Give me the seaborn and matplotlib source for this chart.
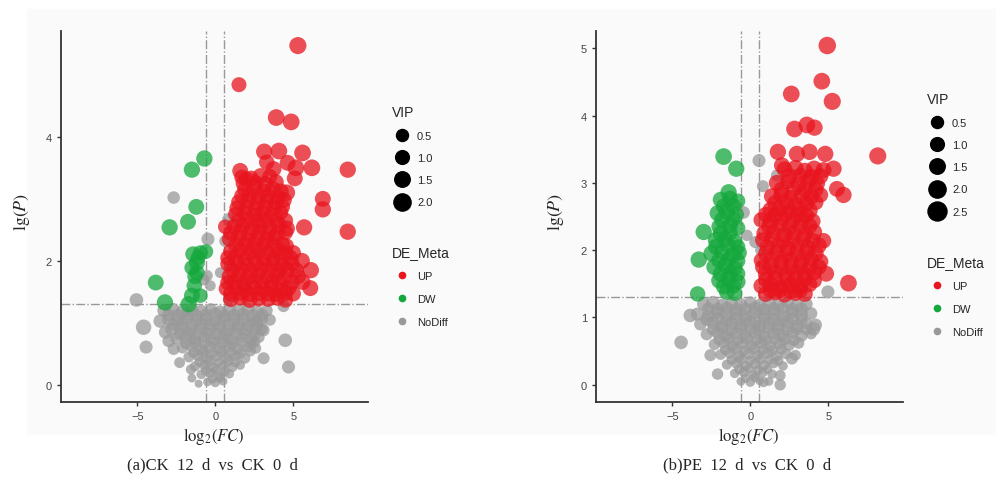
import numpy as np
import pandas as pd
import matplotlib
matplotlib.use("Agg")
import matplotlib.pyplot as plt
from matplotlib.lines import Line2D
from matplotlib.patches import Rectangle
import seaborn as sns

# points as (log2FC, lgP, VIP)
a_up = [
    (5.3, 5.47, 2.1), (1.52, 4.84, 1.6), (3.91, 4.31, 2.0), (4.87, 4.24, 2.0),
    (3.14, 3.76, 1.9), (4.08, 3.77, 2.0), (5.6, 3.74, 2.0), (8.5, 3.47, 1.9),
    (6.2, 3.5, 2.0), (5.17, 3.5, 2.0), (4.64, 3.58, 1.8), (5.1, 3.33, 1.8),
    (4.6, 3.1, 1.9), (6.9, 3.0, 1.8), (6.9, 2.83, 1.9), (5.7, 2.54, 1.9),
    (8.5, 2.47, 1.9), (4.5, 2.65, 1.7), (0.64, 2.55, 1.5), (6.13, 1.85, 1.9),
    (6.1, 1.56, 1.8), (5.56, 2.0, 1.8), (5.0, 2.13, 1.7), (4.55, 2.24, 1.7),
    (1.6, 3.45, 1.8), (3.74, 3.48, 1.8), (3.3, 3.59, 1.7), (2.9, 3.37, 1.7),
    (2.0, 3.32, 1.6),
    (1.7, 3.35, 1.6), (2.3, 3.33, 1.7), (3.5, 3.36, 1.6),
    (1.9, 3.15, 1.7), (2.5, 3.17, 1.8), (3.1, 3.13, 1.6), (3.7, 3.16, 1.7), (4.2, 3.12, 1.8),
    (1.5, 2.95, 1.6), (2.1, 2.97, 1.7), (2.7, 2.93, 1.8), (3.3, 2.96, 1.6), (3.9, 2.94, 1.7), (4.4, 2.98, 1.8),
    (1.3, 2.75, 1.6), (1.9, 2.77, 1.7), (2.5, 2.73, 1.6), (3.0, 2.76, 1.8), (3.6, 2.74, 1.7), (4.2, 2.78, 1.6),
    (1.2, 2.55, 1.7), (1.8, 2.57, 1.6), (2.4, 2.53, 1.8), (2.9, 2.56, 1.7), (3.5, 2.54, 1.6), (4.1, 2.58, 1.7), (4.6, 2.52, 1.8),
    (0.9, 2.35, 1.6), (1.5, 2.37, 1.7), (2.1, 2.33, 1.6), (2.7, 2.36, 1.8), (3.3, 2.34, 1.7), (3.8, 2.38, 1.6),
    (1.0, 2.15, 1.7), (1.6, 2.17, 1.6), (2.2, 2.13, 1.8), (2.8, 2.16, 1.7), (3.4, 2.14, 1.6), (4.0, 2.18, 1.7), (4.5, 2.12, 1.8),
    (0.8, 1.95, 1.6), (1.4, 1.97, 1.7), (2.0, 1.93, 1.6), (2.6, 1.96, 1.8), (3.2, 1.94, 1.7), (3.7, 1.98, 1.6), (4.3, 1.92, 1.7), (4.9, 1.96, 1.8),
    (0.9, 1.75, 1.7), (1.5, 1.77, 1.6), (2.1, 1.73, 1.8), (2.7, 1.76, 1.7), (3.3, 1.74, 1.6), (3.9, 1.78, 1.7), (4.4, 1.72, 1.8), (5.3, 1.75, 1.8),
    (0.7, 1.55, 1.6), (1.3, 1.57, 1.7), (1.9, 1.53, 1.6), (2.5, 1.56, 1.8), (3.1, 1.54, 1.7), (3.6, 1.58, 1.6), (4.2, 1.52, 1.7), (4.7, 1.56, 1.8),
    (1.0, 1.38, 1.7), (1.6, 1.4, 1.6), (2.2, 1.37, 1.8), (2.8, 1.39, 1.7), (3.4, 1.38, 1.6), (4.0, 1.4, 1.7), (4.5, 1.37, 1.7),
]
a_up_core = [
    (1.8, 3.25, 1.7), (2.6, 3.26, 1.6), (3.2, 3.24, 1.8), (3.9, 3.27, 1.7),
    (1.7, 3.05, 1.6), (2.2, 3.06, 1.7), (2.8, 3.04, 1.8), (3.4, 3.05, 1.6), (4.0, 3.03, 1.7),
    (1.4, 2.85, 1.7), (2.0, 2.86, 1.6), (2.6, 2.84, 1.7), (3.2, 2.86, 1.8), (3.8, 2.85, 1.6), (4.3, 2.87, 1.7),
    (1.5, 2.65, 1.6), (2.1, 2.66, 1.8), (2.7, 2.64, 1.7), (3.3, 2.66, 1.6), (3.9, 2.65, 1.7),
    (1.0, 2.45, 1.7), (1.6, 2.46, 1.6), (2.2, 2.44, 1.8), (2.8, 2.46, 1.7), (3.4, 2.45, 1.6), (4.0, 2.44, 1.7), (4.5, 2.46, 1.7),
    (1.3, 2.25, 1.6), (1.9, 2.26, 1.7), (2.5, 2.24, 1.8), (3.1, 2.26, 1.6), (3.7, 2.25, 1.7), (4.3, 2.27, 1.7),
    (0.8, 2.05, 1.6), (1.3, 2.06, 1.7), (1.9, 2.04, 1.6), (2.5, 2.06, 1.8), (3.1, 2.05, 1.7), (3.7, 2.04, 1.6), (4.2, 2.06, 1.7), (4.8, 2.05, 1.8),
    (1.1, 1.85, 1.7), (1.7, 1.86, 1.6), (2.3, 1.84, 1.8), (2.9, 1.86, 1.7), (3.5, 1.85, 1.6), (4.1, 1.84, 1.7), (4.6, 1.86, 1.8), (5.2, 1.85, 1.7),
    (0.8, 1.65, 1.6), (1.2, 1.66, 1.7), (1.8, 1.64, 1.6), (2.4, 1.66, 1.8), (3.0, 1.65, 1.7), (3.6, 1.64, 1.6), (4.1, 1.66, 1.7), (4.9, 1.65, 1.8), (5.6, 1.66, 1.8),
    (1.0, 1.47, 1.7), (1.6, 1.48, 1.6), (2.2, 1.46, 1.7), (2.8, 1.48, 1.8), (3.4, 1.47, 1.7), (3.9, 1.46, 1.6), (4.5, 1.48, 1.7), (5.0, 1.47, 1.7),
]
a_dw = [
    (-0.7, 3.65, 1.9), (-1.5, 3.47, 1.9), (-1.22, 2.87, 1.8), (-1.75, 2.63, 1.8),
    (-2.93, 2.54, 1.9), (-1.43, 2.11, 1.7), (-0.96, 2.13, 1.6), (-1.18, 1.97, 1.8),
    (-1.5, 1.89, 1.6), (-0.6, 2.15, 1.5), (-1.18, 1.81, 1.7), (-3.82, 1.65, 1.8),
    (-1.35, 1.6, 1.7), (-1.5, 1.44, 1.8), (-3.23, 1.33, 1.9), (-1.71, 1.3, 1.9),
    (-0.96, 1.44, 1.5), (-1.3, 1.75, 1.7), (-1.1, 2.05, 1.6),
]
a_nd = [
    (-2.67, 3.02, 1.1), (-0.47, 2.35, 1.2), (0.85, 2.67, 1.1), (0.64, 2.32, 1.0),
    (0.96, 1.92, 1.0), (1.82, 1.6, 1.2), (-0.53, 1.76, 0.9), (-0.32, 1.6, 0.8),
    (-0.75, 1.7, 1.0), (0.85, 1.38, 0.9), (-5.06, 1.37, 1.3), (4.38, 1.27, 1.0),
    (0.32, 1.81, 0.8),
    (-4.6, 0.93, 1.7), (-4.44, 0.61, 1.2), (4.49, 0.72, 1.3), (4.7, 0.29, 1.2),
    (-2.29, 0.36, 0.8), (-1.56, 0.25, 0.7), (-1.5, 0.11, 0.5), (-1.07, 0.02, 0.4),
    (3.1, 0.43, 1.0), (2.52, 0.69, 0.9), (-3.53, 1.03, 1.3), (-3.2, 0.85, 1.2),
    (-2.99, 0.71, 1.1), (-2.67, 0.58, 1.0), (2.67, 1.03, 1.1), (2.99, 0.9, 1.0),
    (2.24, 0.55, 0.9),
    (-3.3, 1.2, 1.2), (-2.7, 1.22, 1.1), (-2.1, 1.18, 1.3), (-1.5, 1.21, 1.2), (-0.9, 1.19, 1.1),
    (-0.3, 1.22, 1.0), (0.3, 1.18, 1.1), (0.9, 1.21, 1.2), (1.5, 1.19, 1.3), (2.1, 1.22, 1.2),
    (2.7, 1.18, 1.1), (3.3, 1.2, 1.0),
    (-3.0, 1.05, 1.1), (-2.4, 1.03, 1.2), (-1.8, 1.07, 1.1), (-1.2, 1.04, 1.2), (-0.6, 1.06, 1.0),
    (0.0, 1.03, 1.1), (0.6, 1.07, 1.2), (1.2, 1.04, 1.1), (1.8, 1.06, 1.2), (2.4, 1.03, 1.0),
    (3.0, 1.07, 1.1), (3.5, 1.05, 1.0),
    (-2.8, 0.9, 1.2), (-2.2, 0.92, 1.1), (-1.6, 0.88, 1.0), (-1.0, 0.91, 1.1), (-0.4, 0.89, 1.2),
    (0.2, 0.92, 1.0), (0.8, 0.88, 1.1), (1.4, 0.91, 1.0), (2.0, 0.89, 1.1), (2.6, 0.92, 1.2),
    (3.1, 0.88, 1.0),
    (-2.5, 0.75, 1.0), (-1.9, 0.77, 1.1), (-1.3, 0.73, 1.0), (-0.7, 0.76, 0.9), (-0.1, 0.74, 1.0),
    (0.5, 0.77, 1.1), (1.1, 0.73, 1.0), (1.7, 0.76, 0.9), (2.3, 0.74, 1.0), (2.8, 0.77, 0.9),
    (-2.1, 0.6, 0.9), (-1.5, 0.62, 1.0), (-0.9, 0.58, 0.9), (-0.3, 0.61, 1.0), (0.3, 0.59, 0.9),
    (0.9, 0.62, 1.0), (1.5, 0.58, 0.9), (2.1, 0.61, 0.8), (2.6, 0.59, 0.8),
    (-1.7, 0.45, 0.8), (-1.1, 0.47, 0.9), (-0.5, 0.43, 0.9), (0.1, 0.46, 0.8), (0.7, 0.44, 0.9),
    (1.3, 0.47, 0.8), (1.9, 0.43, 0.8),
    (-1.3, 0.3, 0.7), (-0.7, 0.32, 0.8), (-0.1, 0.28, 0.8), (0.5, 0.31, 0.7), (1.1, 0.29, 0.7),
    (1.6, 0.32, 0.6),
    (-0.9, 0.17, 0.6), (-0.3, 0.19, 0.7), (0.3, 0.15, 0.7), (0.9, 0.18, 0.6),
    (-0.5, 0.05, 0.5), (0.0, 0.04, 0.6), (0.5, 0.06, 0.5),
]
a_nd_core = [
    (-3.0, 1.13, 1.1), (-2.4, 1.12, 1.2), (-1.8, 1.14, 1.1), (-1.2, 1.12, 1.0), (-0.6, 1.13, 1.1),
    (0.0, 1.14, 1.2), (0.6, 1.12, 1.1), (1.2, 1.13, 1.0), (1.8, 1.14, 1.1), (2.4, 1.12, 1.2), (3.0, 1.13, 1.1),
    (-2.7, 0.97, 1.0), (-2.1, 0.98, 1.1), (-1.5, 0.96, 1.2), (-0.9, 0.98, 1.0), (-0.3, 0.97, 1.1),
    (0.3, 0.96, 1.0), (0.9, 0.98, 1.1), (1.5, 0.97, 1.2), (2.1, 0.96, 1.0), (2.7, 0.98, 1.1),
    (-2.3, 0.82, 1.0), (-1.7, 0.83, 1.1), (-1.1, 0.81, 1.0), (-0.5, 0.83, 0.9), (0.1, 0.82, 1.0),
    (0.7, 0.81, 1.1), (1.3, 0.83, 1.0), (1.9, 0.82, 0.9), (2.5, 0.81, 1.0),
    (-1.9, 0.67, 0.9), (-1.3, 0.68, 1.0), (-0.7, 0.66, 0.9), (-0.1, 0.68, 1.0), (0.5, 0.67, 0.9),
    (1.1, 0.66, 1.0), (1.7, 0.68, 0.9), (2.3, 0.67, 0.8),
    (-1.4, 0.52, 0.8), (-0.8, 0.53, 0.9), (-0.2, 0.51, 0.8), (0.4, 0.53, 0.9), (1.0, 0.52, 0.8), (1.6, 0.51, 0.8),
    (-1.0, 0.37, 0.7), (-0.4, 0.38, 0.8), (0.2, 0.36, 0.7), (0.8, 0.38, 0.8), (1.3, 0.37, 0.7),
    (-0.6, 0.23, 0.7), (0.0, 0.24, 0.6), (0.6, 0.22, 0.7), (-0.2, 0.1, 0.6), (0.3, 0.11, 0.6),
]

b_up = [
    (4.94, 5.04, 2.2), (4.59, 4.51, 2.0), (5.26, 4.21, 2.1), (2.63, 4.32, 2.0),
    (8.18, 3.4, 2.1), (6.3, 1.51, 2.0), (2.84, 3.8, 2.0), (3.63, 3.86, 2.0),
    (4.12, 3.82, 1.9), (1.77, 3.46, 1.9), (2.99, 3.43, 1.9), (3.8, 3.46, 1.9),
    (4.81, 3.43, 1.9), (5.34, 3.21, 1.9), (5.56, 2.91, 1.8), (5.98, 2.82, 1.9),
    (4.87, 1.65, 1.8), (4.7, 2.14, 1.7), (2.03, 3.26, 1.8),
    (2.2, 3.2, 1.8), (2.9, 3.22, 1.9), (3.5, 3.18, 1.8), (4.1, 3.21, 1.9), (4.7, 3.19, 1.8),
    (1.7, 3.0, 1.8), (2.4, 3.02, 1.7), (3.1, 2.98, 1.9), (3.7, 3.01, 1.8), (4.3, 2.99, 1.7),
    (1.4, 2.8, 1.9), (2.0, 2.82, 1.8), (2.6, 2.78, 1.7), (3.3, 2.81, 1.9), (3.9, 2.79, 1.8), (4.5, 2.82, 1.7),
    (1.3, 2.6, 1.8), (1.9, 2.62, 1.9), (2.5, 2.58, 1.7), (3.2, 2.61, 1.8), (3.8, 2.59, 1.9),
    (0.7, 2.45, 1.7), (1.3, 2.43, 1.8), (2.0, 2.47, 1.9), (2.7, 2.44, 1.7), (3.3, 2.46, 1.8), (4.0, 2.43, 1.8),
    (0.9, 2.25, 1.8), (1.5, 2.27, 1.7), (2.2, 2.23, 1.9), (2.8, 2.26, 1.8), (3.5, 2.24, 1.7), (4.1, 2.27, 1.8),
    (1.1, 2.05, 1.7), (1.8, 2.07, 1.8), (2.4, 2.03, 1.9), (3.0, 2.06, 1.7), (3.7, 2.04, 1.8), (4.4, 2.07, 1.8),
    (0.7, 1.85, 1.6), (1.4, 1.87, 1.8), (2.0, 1.83, 1.7), (2.6, 1.86, 1.9), (3.3, 1.84, 1.8), (3.9, 1.87, 1.7), (4.5, 1.83, 1.8),
    (1.0, 1.65, 1.8), (1.6, 1.67, 1.7), (2.3, 1.63, 1.9), (2.9, 1.66, 1.8), (3.5, 1.64, 1.7), (4.1, 1.67, 1.8),
    (0.7, 1.47, 1.7), (1.3, 1.49, 1.8), (1.9, 1.45, 1.7), (2.6, 1.48, 1.9), (3.2, 1.46, 1.8), (3.8, 1.49, 1.7),
    (1.0, 1.35, 1.8), (1.6, 1.37, 1.7), (2.2, 1.34, 1.8), (2.9, 1.36, 1.7), (3.5, 1.35, 1.8),
]
b_up_core = [
    (2.5, 3.1, 1.8), (3.2, 3.11, 1.7), (3.9, 3.09, 1.8), (4.5, 3.1, 1.8),
    (2.0, 2.9, 1.8), (2.8, 2.91, 1.7), (3.5, 2.89, 1.8), (4.2, 2.9, 1.7),
    (1.6, 2.7, 1.8), (2.3, 2.71, 1.8), (2.9, 2.69, 1.7), (3.6, 2.7, 1.8), (4.2, 2.71, 1.7),
    (1.0, 2.53, 1.7), (1.6, 2.52, 1.8), (2.3, 2.54, 1.7), (3.0, 2.53, 1.8), (3.6, 2.52, 1.7),
    (1.2, 2.35, 1.8), (1.9, 2.36, 1.7), (2.5, 2.34, 1.8), (3.2, 2.35, 1.7), (3.8, 2.36, 1.8),
    (0.8, 2.15, 1.7), (1.4, 2.16, 1.8), (2.1, 2.14, 1.7), (2.7, 2.15, 1.8), (3.4, 2.16, 1.7), (4.0, 2.14, 1.8),
    (1.0, 1.95, 1.7), (1.7, 1.96, 1.8), (2.3, 1.94, 1.7), (3.0, 1.95, 1.8), (3.6, 1.96, 1.7), (4.2, 1.95, 1.8),
    (0.8, 1.75, 1.7), (1.3, 1.76, 1.8), (2.0, 1.74, 1.7), (2.6, 1.75, 1.8), (3.2, 1.76, 1.7), (3.8, 1.74, 1.8), (4.4, 1.75, 1.7),
    (1.0, 1.56, 1.7), (1.6, 1.57, 1.8), (2.3, 1.55, 1.7), (2.9, 1.56, 1.8), (3.5, 1.57, 1.7), (4.1, 1.55, 1.7),
    (1.3, 1.4, 1.7), (1.9, 1.41, 1.8), (2.6, 1.39, 1.7), (3.2, 1.4, 1.7),
]
b_dw = [
    (-1.71, 3.39, 2.0), (-0.9, 3.21, 1.9), (-2.99, 2.27, 1.9), (-3.31, 1.86, 1.9),
    (-3.38, 1.35, 1.7), (-1.39, 2.86, 1.9),
    (-1.9, 2.75, 1.8), (-1.3, 2.77, 1.7), (-0.8, 2.73, 1.6),
    (-2.1, 2.55, 1.8), (-1.5, 2.57, 1.9), (-0.9, 2.53, 1.7),
    (-2.0, 2.35, 1.7), (-1.3, 2.37, 1.8), (-0.8, 2.33, 1.6),
    (-2.2, 2.15, 1.9), (-1.6, 2.17, 1.8), (-1.0, 2.13, 1.7),
    (-2.5, 1.95, 1.8), (-1.8, 1.97, 1.9), (-1.1, 1.93, 1.8), (-0.7, 1.96, 1.6),
    (-2.3, 1.75, 1.9), (-1.6, 1.77, 1.8), (-1.0, 1.73, 1.7),
    (-2.0, 1.55, 1.8), (-1.4, 1.57, 1.9), (-0.8, 1.53, 1.7),
    (-1.5, 1.38, 1.8), (-1.0, 1.36, 1.7),
    (-1.7, 2.65, 1.8), (-1.1, 2.66, 1.7), (-1.8, 2.45, 1.8), (-1.1, 2.46, 1.7),
    (-1.9, 2.25, 1.8), (-1.3, 2.26, 1.7), (-2.2, 2.05, 1.8), (-1.4, 2.06, 1.7), (-0.8, 2.05, 1.6),
    (-2.0, 1.85, 1.8), (-1.4, 1.86, 1.7), (-0.8, 1.84, 1.6), (-1.9, 1.65, 1.8), (-1.3, 1.66, 1.7),
    (-0.8, 1.65, 1.6), (-1.7, 1.46, 1.8), (-1.1, 1.47, 1.7),
]
b_nd = [
    (0.56, 3.33, 1.2), (1.71, 3.11, 1.0), (0.81, 2.95, 1.0), (-0.43, 2.56, 1.1),
    (0.32, 2.12, 1.0), (0.68, 2.0, 0.9), (4.98, 1.38, 1.2), (-0.21, 2.22, 0.9),
    (-4.44, 0.63, 1.3), (-3.85, 1.03, 1.3), (-2.56, 0.44, 1.0), (-2.1, 0.16, 0.9),
    (1.92, 0.0, 0.9), (0.85, 0.04, 0.7), (4.06, 0.83, 1.3), (2.67, 0.39, 1.0),
    (1.92, 0.14, 0.8),
    (-3.0, 1.2, 1.2), (-2.4, 1.22, 1.3), (-1.8, 1.18, 1.2), (-1.2, 1.21, 1.1), (-0.6, 1.19, 1.2),
    (0.0, 1.22, 1.1), (0.6, 1.18, 1.2), (1.2, 1.21, 1.3), (1.8, 1.19, 1.2), (2.4, 1.22, 1.1),
    (3.0, 1.18, 1.2), (3.6, 1.2, 1.1),
    (-3.4, 1.05, 1.2), (-2.7, 1.03, 1.1), (-2.1, 1.07, 1.2), (-1.5, 1.04, 1.1), (-0.9, 1.06, 1.2),
    (-0.3, 1.03, 1.1), (0.3, 1.07, 1.2), (0.9, 1.04, 1.1), (1.5, 1.06, 1.2), (2.1, 1.03, 1.1),
    (2.7, 1.07, 1.2), (3.3, 1.04, 1.1), (3.9, 1.06, 1.1),
    (-3.2, 0.9, 1.1), (-2.4, 0.92, 1.2), (-1.8, 0.88, 1.1), (-1.2, 0.91, 1.2), (-0.6, 0.89, 1.1),
    (0.0, 0.92, 1.2), (0.6, 0.88, 1.1), (1.2, 0.91, 1.2), (1.8, 0.89, 1.1), (2.4, 0.92, 1.2),
    (3.0, 0.88, 1.1), (3.6, 0.91, 1.0), (4.2, 0.89, 1.1),
    (-2.8, 0.75, 1.0), (-2.1, 0.77, 1.1), (-1.5, 0.73, 1.0), (-0.9, 0.76, 1.1), (-0.3, 0.74, 1.0),
    (0.3, 0.77, 1.1), (0.9, 0.73, 1.0), (1.5, 0.76, 1.1), (2.1, 0.74, 1.0), (2.7, 0.77, 1.0),
    (3.3, 0.73, 1.0), (3.9, 0.76, 0.9),
    (-2.3, 0.6, 0.9), (-1.7, 0.62, 1.0), (-1.1, 0.58, 0.9), (-0.5, 0.61, 1.0), (0.1, 0.59, 0.9),
    (0.7, 0.62, 1.0), (1.3, 0.58, 0.9), (1.9, 0.61, 1.0), (2.5, 0.59, 0.9), (3.1, 0.62, 0.9),
    (-1.9, 0.45, 0.8), (-1.3, 0.47, 0.9), (-0.7, 0.43, 0.8), (-0.1, 0.46, 0.9), (0.5, 0.44, 0.8),
    (1.1, 0.47, 0.9), (1.7, 0.43, 0.8), (2.3, 0.46, 0.8), (2.9, 0.44, 0.8),
    (-1.5, 0.3, 0.7), (-0.9, 0.32, 0.8), (-0.3, 0.28, 0.7), (0.3, 0.31, 0.8), (0.9, 0.29, 0.7),
    (1.5, 0.32, 0.7), (2.1, 0.28, 0.6),
    (-1.0, 0.17, 0.6), (-0.4, 0.19, 0.7), (0.2, 0.15, 0.6), (0.8, 0.18, 0.6), (1.4, 0.16, 0.6),
    (-0.6, 0.05, 0.5), (0.0, 0.04, 0.6), (0.6, 0.06, 0.5), (1.2, 0.05, 0.5),
]
b_nd_core = [
    (-2.7, 1.13, 1.1), (-2.1, 1.12, 1.2), (-1.5, 1.14, 1.1), (-0.9, 1.12, 1.2), (-0.3, 1.13, 1.1),
    (0.3, 1.14, 1.2), (0.9, 1.12, 1.1), (1.5, 1.13, 1.2), (2.1, 1.14, 1.1), (2.7, 1.12, 1.2), (3.3, 1.13, 1.1),
    (-2.8, 0.97, 1.1), (-2.1, 0.98, 1.2), (-1.5, 0.96, 1.1), (-0.9, 0.98, 1.2), (-0.3, 0.97, 1.1),
    (0.3, 0.96, 1.2), (0.9, 0.98, 1.1), (1.5, 0.97, 1.2), (2.1, 0.96, 1.1), (2.7, 0.98, 1.1), (3.3, 0.97, 1.0),
    (-2.4, 0.82, 1.0), (-1.8, 0.83, 1.1), (-1.2, 0.81, 1.0), (-0.6, 0.83, 1.1), (0.0, 0.82, 1.0),
    (0.6, 0.81, 1.1), (1.2, 0.83, 1.0), (1.8, 0.82, 1.1), (2.4, 0.81, 1.0), (3.0, 0.83, 1.0), (3.6, 0.82, 0.9),
    (-2.0, 0.67, 0.9), (-1.4, 0.68, 1.0), (-0.8, 0.66, 0.9), (-0.2, 0.68, 1.0), (0.4, 0.67, 0.9),
    (1.0, 0.66, 1.0), (1.6, 0.68, 0.9), (2.2, 0.67, 0.9), (2.8, 0.66, 0.9),
    (-1.6, 0.52, 0.8), (-1.0, 0.53, 0.9), (-0.4, 0.51, 0.8), (0.2, 0.53, 0.9), (0.8, 0.52, 0.8),
    (1.4, 0.51, 0.9), (2.0, 0.53, 0.8),
    (-1.2, 0.37, 0.7), (-0.6, 0.38, 0.8), (0.0, 0.36, 0.7), (0.6, 0.38, 0.8), (1.2, 0.37, 0.7), (1.8, 0.36, 0.7),
    (-0.7, 0.23, 0.7), (-0.1, 0.24, 0.6), (0.5, 0.22, 0.7), (1.1, 0.23, 0.6), (-0.3, 0.1, 0.6), (0.3, 0.11, 0.6),
]

a_vip_ticks = [0.5, 1.0, 1.5, 2.0]
b_vip_ticks = [0.5, 1.0, 1.5, 2.0, 2.5]
groups = ["UP", "DW", "NoDiff"]
titles = ["(a)CK  12  d  vs  CK  0  d", "(b)PE  12  d  vs  CK  0  d"]

colors = {"UP": "#E8141E", "DW": "#14A83C", "NoDiff": "#999999"}
size_range = (5, 180)
size_norm = (0, 2.5)


def build(up, dw, nd):
    rows = []
    for name, pts in (("NoDiff", nd), ("DW", dw), ("UP", up)):
        for x, y, v in pts:
            rows.append({"log2FC": x, "lgP": y, "VIP": v, "DE_Meta": name})
    return pd.DataFrame(rows)


sns.set_style("white")
plt.rcParams["font.family"] = ["Liberation Sans", "DejaVu Sans"]
plt.rcParams["mathtext.fontset"] = "stix"

fig = plt.figure(figsize=(9.96, 4.81), dpi=100)
fig.patches.append(Rectangle((27 / 996, 46 / 481), 969 / 996, 425 / 481,
                             transform=fig.transFigure, color="#fafafa", zorder=-10))

panels = [
    (build(a_up + a_up_core, a_dw, a_nd + a_nd_core), 61, (-0.28, 5.71), [0, 2, 4],
     a_vip_ticks, 386, 100, 240, 22, titles[0]),
    (build(b_up + b_up_core, b_dw, b_nd + b_nd_core), 596, (-0.26, 5.26), [0, 1, 2, 3, 4, 5],
     b_vip_ticks, 921, 87, 250, 556, titles[1]),
]

for df, left_px, ylim, yticks, vticks, leg_x, leg_y1, leg_y2, ylab_x, title in panels:
    ax = fig.add_axes([left_px / 996, 77.7 / 481, 307 / 996, 371.6 / 481])
    ax.set_facecolor("none")
    sns.scatterplot(data=df, x="log2FC", y="lgP", hue="DE_Meta", size="VIP",
                    palette=colors, sizes=size_range, size_norm=size_norm,
                    alpha=0.75, linewidth=0, legend=False, ax=ax)
    ax.axhline(1.3, color="#999999", lw=1, ls="-.", zorder=0)
    for xv in (-0.58, 0.58):
        ax.axvline(xv, color="#999999", lw=1, ls="-.", zorder=0)
    ax.set_xlim(-9.9, 9.8)
    ax.set_ylim(*ylim)
    ax.set_xticks([-5, 0, 5])
    ax.set_yticks(yticks)
    ax.set_xlabel("")
    ax.set_ylabel("")
    for s in ("top", "right"):
        ax.spines[s].set_visible(False)
    for s in ("left", "bottom"):
        ax.spines[s].set_color("#333333")
        ax.spines[s].set_linewidth(1.3)
    ax.tick_params(direction="out", length=3, width=1, color="#333333",
                   labelsize=8, labelcolor="#444444", left=True, bottom=True)

    cx = (left_px + 153) / 996
    fig.text(ylab_x / 996, 1 - 212 / 481, r"$\mathrm{lg}(P)$", rotation=90,
             ha="center", va="center", fontsize=13)
    fig.text(cx, 1 - 437 / 481, r"$\mathrm{log}_2(FC)$", ha="center", va="center", fontsize=12)
    fig.text(cx - 2 / 996, 1 - 465 / 481, title, ha="center", va="center",
             fontsize=12, family=["Liberation Serif", "DejaVu Serif"])

    # legend circles: about 12 px for 0.5 growing to about 19 px for 2.5
    vip_handles = [Line2D([], [], marker="o", ls="", color="black",
                          markersize=(12 + 3.5 * (v - 0.5)) * 0.72) for v in vticks]
    fig.legend(vip_handles, [f"{v:.1f}" for v in vticks], title="VIP",
               loc="upper left", bbox_to_anchor=(leg_x / 996, 1 - leg_y1 / 481),
               frameon=False, fontsize=8, title_fontsize=10, alignment="left",
               labelspacing=1.1, handletextpad=0.5, borderpad=0, handlelength=1.8)
    de_handles = [Line2D([], [], marker="o", ls="", color=colors[g], markersize=4.5)
                  for g in groups]
    fig.legend(de_handles, groups, title="DE_Meta",
               loc="upper left", bbox_to_anchor=(leg_x / 996, 1 - leg_y2 / 481),
               frameon=False, fontsize=8, title_fontsize=10, alignment="left",
               labelspacing=1.15, handletextpad=0.5, borderpad=0, handlelength=1.8)

fig.savefig("out.png", dpi=100)
